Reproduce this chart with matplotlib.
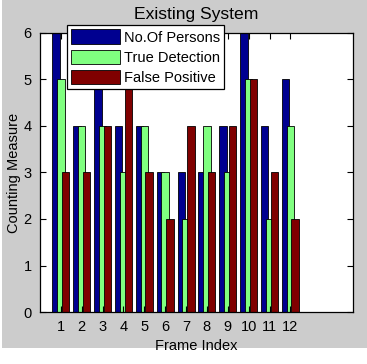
import matplotlib
matplotlib.use("Agg")
import matplotlib.pyplot as plt
from matplotlib.patches import Rectangle
import numpy as np

frames = [1, 2, 3, 4, 5, 6, 7, 8, 9, 10, 11, 12]
persons = [6, 4, 5, 4, 4, 3, 3, 3, 4, 6, 4, 5]
true_det = [5, 4, 4, 3, 4, 3, 2, 4, 3, 5, 2, 4]
false_pos = [3, 3, 4, 5, 3, 2, 4, 3, 4, 5, 3, 2]
labels = ["No.Of Persons", "True Detection", "False Positive"]
colors = ["#000090", "#80ff80", "#800000"]

plt.rcParams['font.family'] = ['Liberation Sans', 'DejaVu Sans']
plt.rcParams['font.size'] = 10.5

W, H = 367, 364
fig = plt.figure(figsize=(W / 100, H / 100), dpi=100)
fig.patch.set_facecolor("white")
fig.patches.append(Rectangle((2 / W, 1 - 348 / H), 1, 348 / H, transform=fig.transFigure,
                             facecolor="#cccccc", edgecolor="none", zorder=-10))

ax = fig.add_axes([40 / W, 1 - 312 / H, 313 / W, 279 / H])
ax.set_facecolor("white")

x = np.array(frames, dtype=float)
offs = [-0.23, 0.0, 0.23]
width = 0.36
for vals, off, c, lab in zip([persons, true_det, false_pos], offs, colors, labels):
    ax.bar(x + off, vals, width=width, color=c, edgecolor="black", linewidth=0.6, label=lab)

ax.set_xlim(0, 15)
ax.set_ylim(0, 6)
ax.set_xticks(frames)
ax.set_xticklabels([str(f) for f in frames])
ax.set_yticks(range(0, 7))
ax.tick_params(direction="in", length=4, top=True, right=True, width=0.8)
ax.tick_params(axis="x", pad=6)
ax.tick_params(axis="y", pad=6)
for s in ax.spines.values():
    s.set_linewidth(0.9)

ax.set_title("Existing System", pad=10)
ax.set_xlabel("Frame Index", labelpad=3)
ax.set_ylabel("Counting Measure", labelpad=2)

leg = ax.legend(loc="upper left", bbox_to_anchor=(67 / W, 1 - 25 / H),
                bbox_transform=fig.transFigure, borderaxespad=0,
                handlelength=3.3, handleheight=1.15, labelspacing=0.35,
                borderpad=0.3, handletextpad=0.3, fancybox=False,
                framealpha=1, edgecolor="black")
leg.get_frame().set_linewidth(0.9)
leg.set_zorder(10)

fig.savefig("out.png", dpi=100, facecolor=fig.get_facecolor())
